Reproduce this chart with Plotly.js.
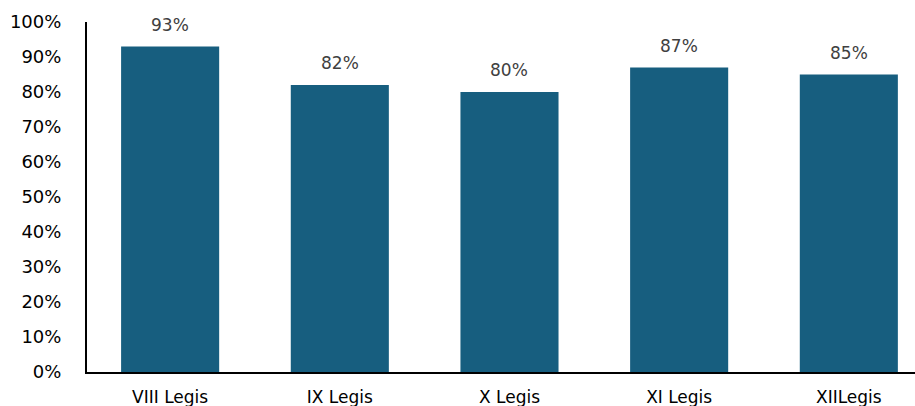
<!DOCTYPE html>
<html>
<head>
<meta charset="utf-8">
<script src="https://cdn.plot.ly/plotly-3.0.1.min.js"></script>
<style>html,body{margin:0;padding:0;background:#fff;}#chart{width:915px;height:406px;}</style>
</head>
<body>
<div id="chart"></div>
<script>
const categories = ["VIII Legis", "IX Legis", "X Legis", "XI Legis", "XIILegis"];
const values = [93, 82, 80, 87, 85];
const yTicks = [0, 10, 20, 30, 40, 50, 60, 70, 80, 90, 100];
const yTickLabels = yTicks.map(v => v + "%");
const valueLabels = values.map(v => v + "%");

const barColor = "#175e7f";
const fontFamily = "'DejaVu Sans', 'Liberation Sans', sans-serif";

const trace = {
  type: "bar",
  x: categories,
  y: values,
  marker: { color: barColor, line: { width: 0 } },
  width: 0.578,
  hoverinfo: "none"
};

const annotations = categories.map((c, i) => ({
  x: c,
  y: values[i],
  xref: "x",
  yref: "y",
  text: valueLabels[i],
  showarrow: false,
  yanchor: "bottom",
  yshift: 10,
  font: { family: fontFamily, size: 17, color: "#404040" }
}));

const layout = {
  width: 915,
  height: 406,
  margin: { l: 87, r: 0, t: 22, b: 34, pad: 0 },
  paper_bgcolor: "#ffffff",
  plot_bgcolor: "#ffffff",
  showlegend: false,
  font: { family: fontFamily, size: 17, color: "#000000" },
  xaxis: {
    type: "category",
    range: [-0.49, 4.39],
    showgrid: false,
    zeroline: false,
    showline: true,
    linecolor: "#000000",
    linewidth: 2,
    ticks: "",
    ticklabelstandoff: 9,
    tickfont: { family: fontFamily, size: 17, color: "#000000" },
    fixedrange: true
  },
  yaxis: {
    range: [0, 100],
    tickvals: yTicks,
    ticktext: yTickLabels,
    showgrid: false,
    zeroline: false,
    showline: true,
    linecolor: "#000000",
    linewidth: 2,
    ticks: "",
    ticklabelstandoff: 20,
    tickfont: { family: fontFamily, size: 18, color: "#000000" },
    fixedrange: true
  },
  annotations: annotations
};

Plotly.newPlot("chart", [trace], layout, { displayModeBar: false, staticPlot: true });
</script>
</body>
</html>
